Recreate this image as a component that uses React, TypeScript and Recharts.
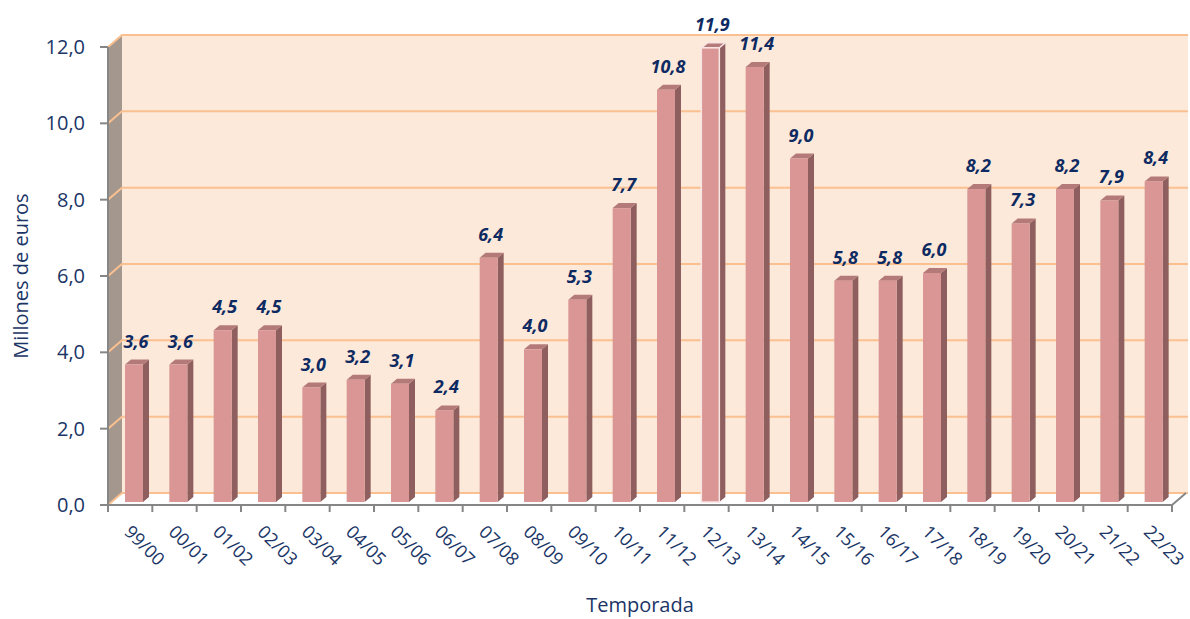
import { BarChart, Bar, XAxis, YAxis, ReferenceArea, LabelList, Label } from "recharts";

const seasons = [
  "99/00", "00/01", "01/02", "02/03", "03/04", "04/05", "05/06", "06/07",
  "07/08", "08/09", "09/10", "10/11", "11/12", "12/13", "13/14", "14/15",
  "15/16", "16/17", "17/18", "18/19", "19/20", "20/21", "21/22", "22/23",
];
const amounts = [
  3.6, 3.6, 4.5, 4.5, 3.0, 3.2, 3.1, 2.4, 6.4, 4.0, 5.3, 7.7,
  10.8, 11.9, 11.4, 9.0, 5.8, 5.8, 6.0, 8.2, 7.3, 8.2, 7.9, 8.4,
];
const yTicks = [0, 2, 4, 6, 8, 10, 12];
const selectedSeason = "12/13";

const data = seasons.map((season, i) => ({ season, value: amounts[i] }));

const NAVY = "#1A3566";
const LABEL_NAVY = "#0E2A62";
const FONT = "'Open Sans', sans-serif";
const AXIS_GRAY = "#868686";

// 3D offsets (pixels)
const WALL_DX = 14;
const WALL_DY = 12;
const BAR_DX = 6;
const BAR_DY = 5;
const BAR_SHIFT_X = 4;
const BAR_SHIFT_Y = -3;

const fmt = (v: number) => v.toFixed(1).replace(".", ",");

const Walls = (props: any) => {
  const { x, y, width, height } = props;
  const bottom = y + height;
  const right = x + width;
  const toY = (v: number) => bottom - (v / 12) * height;
  return (
    <g>
      <polygon
        points={`${x},${y} ${x + WALL_DX},${y - WALL_DY} ${x + WALL_DX},${bottom - WALL_DY} ${x},${bottom}`}
        fill="#A4978D"
      />
      <rect x={x + WALL_DX} y={y - WALL_DY} width={width + 2} height={height} fill="#FDE9D9" />
      <polygon
        points={`${x},${bottom} ${x + WALL_DX},${bottom - WALL_DY} ${right + WALL_DX + 2},${bottom - WALL_DY} ${right},${bottom}`}
        fill="#ffffff"
      />
      {yTicks.map((v) => {
        const ty = toY(v);
        return (
          <polyline
            key={v}
            points={`${x},${ty} ${x + WALL_DX},${ty - WALL_DY} ${right + WALL_DX + 2},${ty - WALL_DY}`}
            fill="none"
            stroke="#FAC090"
            strokeWidth={2}
          />
        );
      })}
      <line x1={right} y1={bottom} x2={right + WALL_DX} y2={bottom - WALL_DY} stroke={AXIS_GRAY} strokeWidth={2} />
    </g>
  );
};

const Bar3D = (props: any) => {
  const { x, y, width, height, payload } = props;
  if (height == null || height <= 0) return null;
  const fx = x + BAR_SHIFT_X;
  const fy = y + BAR_SHIFT_Y;
  const selected = payload && payload.season === selectedSeason;
  const edge = selected ? "#F8E4E3" : "none";
  return (
    <g>
      <polygon
        points={`${fx + width},${fy} ${fx + width + BAR_DX},${fy - BAR_DY} ${fx + width + BAR_DX},${fy + height - BAR_DY} ${fx + width},${fy + height}`}
        fill="#8E5F5E"
      />
      <polygon
        points={`${fx},${fy} ${fx + BAR_DX},${fy - BAR_DY} ${fx + width + BAR_DX},${fy - BAR_DY} ${fx + width},${fy}`}
        fill="#B47A79"
        stroke={edge}
        strokeWidth={1.5}
      />
      <rect x={fx} y={fy} width={width} height={height} fill="#D99694" stroke={edge} strokeWidth={1.5} />
    </g>
  );
};

const ValueLabel = (props: any) => {
  const { x, y, width, value } = props;
  if (x == null || y == null) return null;
  return (
    <text
      x={x + BAR_SHIFT_X + width / 2 + 2}
      y={y - 20}
      textAnchor="middle"
      fill={LABEL_NAVY}
      fontFamily={FONT}
      fontSize={18}
      fontWeight="bold"
      fontStyle="italic"
    >
      {fmt(Number(value))}
    </text>
  );
};

const SeasonTick = (props: any) => {
  const { x, y, payload, index, visibleTicksCount } = props;
  const half = payload && payload.offset ? payload.offset : 22.17;
  const tx = x - 7;
  const ty = y + 28;
  return (
    <g>
      <line x1={x - half} y1={y} x2={x - half} y2={y + 7} stroke={AXIS_GRAY} strokeWidth={2} />
      {index === visibleTicksCount - 1 && (
        <line x1={x + half} y1={y} x2={x + half} y2={y + 7} stroke={AXIS_GRAY} strokeWidth={2} />
      )}
      <text
        x={tx}
        y={ty}
        transform={`rotate(45, ${tx}, ${ty})`}
        textAnchor="start"
        fill={NAVY}
        fontFamily={FONT}
        fontSize={18}
      >
        {payload.value}
      </text>
    </g>
  );
};

export default function App() {
  return (
    <div style={{ position: "absolute", left: 0, top: 0, background: "#fff" }}>
      <BarChart
        width={1190}
        height={619}
        data={data}
        margin={{ top: 47, right: 18, left: 28, bottom: 24 }}
      >
        <ReferenceArea y1={0} y2={12} ifOverflow="visible" shape={<Walls />} />
        <XAxis
          dataKey="season"
          interval={0}
          height={90}
          tickLine={false}
          tickSize={0}
          tickMargin={0}
          axisLine={{ stroke: AXIS_GRAY, strokeWidth: 2 }}
          tick={<SeasonTick />}
        >
          <Label
            content={(p: any) => {
              const vb = p.viewBox;
              return (
                <text
                  x={vb.x + vb.width / 2}
                  y={vb.y + vb.height + 17}
                  textAnchor="middle"
                  fill={NAVY}
                  fontFamily={FONT}
                  fontSize={20}
                >
                  Temporada
                </text>
              );
            }}
          />
        </XAxis>
        <YAxis
          width={80}
          domain={[0, 12]}
          ticks={yTicks}
          interval={0}
          tickFormatter={fmt}
          tickSize={8}
          tickMargin={15}
          axisLine={{ stroke: AXIS_GRAY, strokeWidth: 2 }}
          tickLine={{ stroke: AXIS_GRAY, strokeWidth: 2 }}
          tick={{ fill: NAVY, fontSize: 20, fontFamily: FONT }}
        >
          <Label
            content={(p: any) => {
              const vb = p.viewBox;
              const cx = vb.x - 8;
              const cy = vb.y + vb.height / 2;
              return (
                <text
                  x={cx}
                  y={cy}
                  transform={`rotate(-90, ${cx}, ${cy})`}
                  textAnchor="middle"
                  dominantBaseline="central"
                  fill={NAVY}
                  fontFamily={FONT}
                  fontSize={20}
                >
                  Millones de euros
                </text>
              );
            }}
          />
        </YAxis>
        <Bar dataKey="value" barSize={18} isAnimationActive={false} shape={<Bar3D />}>
          <LabelList dataKey="value" content={<ValueLabel />} />
        </Bar>
      </BarChart>
    </div>
  );
}
